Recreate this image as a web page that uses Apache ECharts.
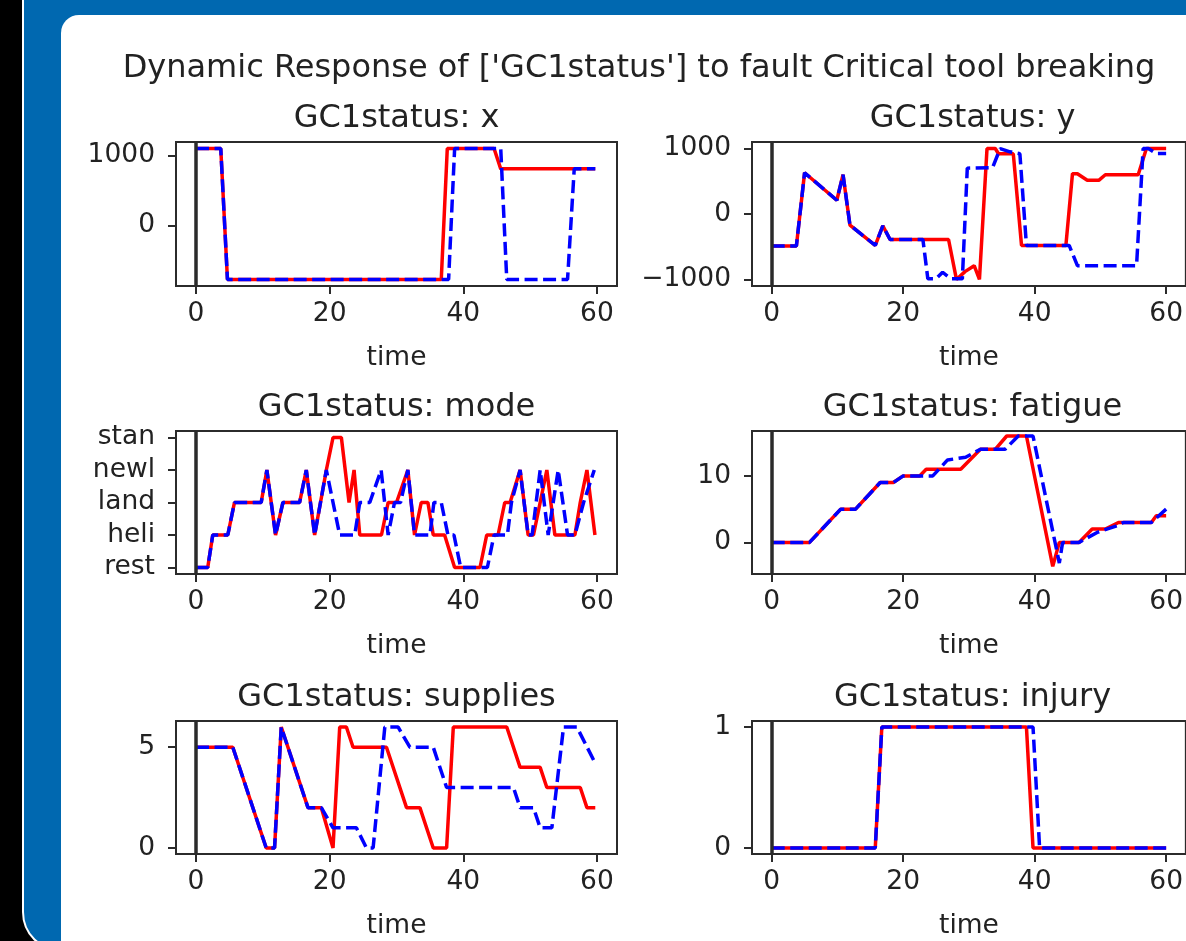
<!DOCTYPE html>
<html><head><meta charset="utf-8">
<script src="https://cdn.jsdelivr.net/npm/echarts@6/dist/echarts.min.js"></script>
<style>
html,body{margin:0;padding:0;width:1186px;height:941px;overflow:hidden;background:#000;}
#frame{position:absolute;left:22px;top:-60px;width:1300px;height:1008px;background:#0068b0;border:2px solid #fff;border-radius:40px;}
#panel{position:absolute;left:61px;top:15px;width:1200px;height:1000px;background:#fff;border-top-left-radius:18px;}
#chart{position:absolute;left:0;top:0;width:1186px;height:941px;}
</style></head><body>
<div id="frame"></div><div id="panel"></div><div id="chart"></div>
<script>
// ---------- data ----------
const suptitle = "Dynamic Response of ['GC1status'] to fault Critical tool breaking";
const panelTitles = ['GC1status: x','GC1status: y','GC1status: mode','GC1status: fatigue','GC1status: supplies','GC1status: injury'];
const timeTicks = [0, 20, 40, 60];
const modeCategories = ['rest','heli','land','newl','stan'];
const xTicks = [0, 1000];
const yTicks = [-1000, 0, 1000];
const fatigueTicks = [0, 10];
const suppliesTicks = [0, 5];
const injuryTicks = [0, 1];
const faultTime = 0;

const xRed  = [[0,1100],[3.7,1100],[4.7,-770],[36.7,-770],[37.6,1100],[44.6,1100],[45.6,810],[59.75,810]];
const xBlue = [[0,1100],[3.7,1100],[4.7,-770],[37.8,-770],[38.7,1100],[45.6,1100],[46.5,-770],[55.6,-770],[56.6,810],[59.75,810]];

const yRed  = [[0,-490],[3.75,-490],[5,630],[9.9,210],[10.85,600],[11.9,-170],[15.75,-480],[16.9,-180],[18,-390],[26.9,-390],[28.1,-1000],[29.4,-880],[30.8,-790],[31.6,-1000],[32.75,1000],[34,1000],[34.5,920],[36.75,920],[38,-480],[44.75,-480],[45.75,615],[46.5,615],[48,515],[49.75,515],[50.75,600],[55.75,600],[57,1000],[60,1000]];
const yBlue = [[0,-490],[3.75,-490],[5,630],[9.9,210],[10.85,600],[11.9,-170],[15.75,-480],[16.9,-180],[18,-390],[23,-390],[23.75,-990],[25,-990],[26,-890],[27.25,-990],[29,-990],[29.75,700],[33.6,710],[34.75,1000],[36.25,950],[37.75,920],[38.75,-480],[45.25,-480],[46.5,-790],[55.5,-790],[56.5,1000],[57.3,1000],[58.5,925],[60,925]];

const modeRed  = [[0,'rest'],[1.75,'rest'],[2.5,'heli'],[4.75,'heli'],[5.75,'land'],[9.75,'land'],[10.6,'newl'],[11.9,'heli'],[13,'land'],[15.5,'land'],[16.5,'newl'],[17.75,'heli'],[19.5,'newl'],[20.5,'stan'],[21.75,'stan'],[22.9,'land'],[23.65,'newl'],[24.5,'heli'],[27.75,'heli'],[28.75,'land'],[30,'land'],[31.7,'newl'],[32.7,'heli'],[33.7,'land'],[34.7,'land'],[35.5,'heli'],[37.2,'heli'],[38.7,'rest'],[42.5,'rest'],[43.5,'heli'],[45.2,'heli'],[46.2,'land'],[47,'land'],[48.5,'newl'],[49.7,'heli'],[50.5,'heli'],[52.5,'newl'],[53.7,'heli'],[56.7,'heli'],[57.5,'land'],[58.5,'newl'],[59.7,'heli']];
const modeBlue = [[0,'rest'],[1.75,'rest'],[2.5,'heli'],[4.75,'heli'],[5.75,'land'],[9.75,'land'],[10.6,'newl'],[11.9,'heli'],[13,'land'],[15.5,'land'],[16.5,'newl'],[17.75,'heli'],[19.5,'newl'],[21.5,'heli'],[23.75,'heli'],[24.5,'land'],[26,'land'],[27.7,'newl'],[28.75,'heli'],[29.7,'land'],[30.6,'land'],[31.7,'newl'],[32.7,'heli'],[35,'heli'],[35.6,'land'],[36.7,'land'],[37.7,'heli'],[38.6,'heli'],[39.6,'rest'],[43.6,'rest'],[44.6,'heli'],[46.6,'heli'],[47.2,'land'],[48.5,'newl'],[49.7,'heli'],[50.3,'heli'],[51.5,'newl'],[52.7,'heli'],[54.2,'newl'],[55.6,'heli'],[56.7,'heli'],[58,'land'],[59.6,'newl']];

const fatigueRed  = [[0,0],[5.75,0],[10.5,5],[12.75,5],[16.5,9],[18.5,9],[20,10],[22.5,10],[23.5,11],[28.75,11],[31.75,14],[34,14],[35.75,16],[38.75,16],[42.75,-3.6],[43.75,0],[46.75,0],[48.75,2],[50.75,2],[52.75,3],[57.75,3],[58.5,4],[60,4]];
const fatigueBlue = [[0,0],[5.75,0],[10.5,5],[12.75,5],[16.5,9],[18.5,9],[20,10],[24.5,10],[26.75,12.4],[29.5,12.8],[31.75,14],[35.5,14],[37.5,16],[39.75,16],[43.75,-3.1],[44.25,0],[46.75,0],[49.5,1.5],[52.5,2.5],[53.5,3],[57.75,3],[60,5]];

const suppliesRed  = [[0,5],[5.5,5],[10.5,0],[11.75,0],[12.75,6],[16.75,2],[18.75,2],[20.5,0],[21.5,6],[22.5,6],[23.5,5],[28.5,5],[31.5,2],[33.5,2],[35.5,0],[37.5,0],[38.5,6],[46.5,6],[48.5,4],[51.5,4],[52.5,3],[57.5,3],[58.5,2],[59.75,2]];
const suppliesBlue = [[0,5],[5.5,5],[10.5,0],[11.75,0],[12.75,6],[16.75,2],[18.75,2],[20.5,1],[24,1],[25.5,0],[26.5,0],[28.25,6],[30.25,6],[32,5],[35.5,5],[37.5,3],[47.5,3],[48.5,2],[50.5,2],[51.5,1],[53.25,1],[55,6],[57,6],[59.75,4.2]];

const injuryRed  = [[0,0],[15.75,0],[16.75,1],[38.75,1],[39.75,0],[60,0]];
const injuryBlue = [[0,0],[15.75,0],[16.75,1],[39.75,1],[40.75,0],[60,0]];

// ---------- layout / style ----------
const FONT = 'DejaVu Sans';
const TXT = '#222';
const AX = '#2b2b2b';
const TITLE_SIZE = 32;
const TICK_SIZE = 26.5;
const colLeft = [176, 752];
const rowTop = [142, 431, 721];
const rowH = [144, 143, 141];
const gW = 441;

const modeIdx = d => d.map(p => [p[0], modeCategories.indexOf(p[1])]);
const minus = v => String(v).replace('-', '\u2212');

const panels = [
  {red: xRed, blue: xBlue, ticks: xTicks, min: -863.5, max: 1193.5},
  {red: yRed, blue: yBlue, ticks: yTicks, min: -1100, max: 1100},
  {red: modeIdx(modeRed), blue: modeIdx(modeBlue), ticks: modeCategories.map((c,i)=>i), min: -0.2, max: 4.2, cat: true},
  {red: fatigueRed, blue: fatigueBlue, ticks: fatigueTicks, min: -4.75, max: 16.75},
  {red: suppliesRed, blue: suppliesBlue, ticks: suppliesTicks, min: -0.3, max: 6.3},
  {red: injuryRed, blue: injuryBlue, ticks: injuryTicks, min: -0.05, max: 1.05}
];

const grid = [], xAxis = [], yAxis = [], series = [];
const title = [{text: suptitle, left: 639, top: 53, textAlign: 'center', padding: 0,
  textStyle: {fontFamily: FONT, fontSize: TITLE_SIZE, fontWeight: 'normal', color: TXT}}];

panels.forEach((p, i) => {
  const r = Math.floor(i / 2), c = i % 2;
  grid.push({left: colLeft[c], top: rowTop[r], width: gW, height: rowH[r], show: true,
    borderColor: AX, borderWidth: 2, backgroundColor: 'transparent', containLabel: false});
  title.push({text: panelTitles[i], left: colLeft[c] + gW / 2, top: rowTop[r] - 39, textAlign: 'center', padding: 0,
    textStyle: {fontFamily: FONT, fontSize: TITLE_SIZE, fontWeight: 'normal', color: TXT}});
  xAxis.push({type: 'value', gridIndex: i, min: -3, max: 63, position: 'bottom',
    name: 'time', nameLocation: 'middle', nameGap: 59,
    nameTextStyle: {fontFamily: FONT, fontSize: TICK_SIZE, color: TXT},
    axisLine: {show: false, onZero: false}, splitLine: {show: false},
    axisTick: {show: true, length: 8, inside: false, customValues: timeTicks, lineStyle: {color: AX, width: 2}},
    axisLabel: {show: true, margin: 15, customValues: timeTicks, fontFamily: FONT, fontSize: TICK_SIZE, color: TXT}});
  yAxis.push({type: 'value', gridIndex: i, min: p.min, max: p.max, position: 'left',
    axisLine: {show: false, onZero: false}, splitLine: {show: false},
    axisTick: {show: true, length: 8, inside: false, customValues: p.ticks, lineStyle: {color: AX, width: 2}},
    axisLabel: {show: true, margin: 21, customValues: p.ticks, fontFamily: FONT, fontSize: TICK_SIZE, color: TXT,
      formatter: p.cat ? (v => modeCategories[Math.round(v)]) : (v => minus(v))}});
  series.push({type: 'line', xAxisIndex: i, yAxisIndex: i, data: [], z: 1, silent: true,
    markLine: {silent: true, symbol: 'none', label: {show: false}, animation: false,
      lineStyle: {color: '#2a2a2a', width: 3.5, type: 'solid'}, data: [{xAxis: faultTime}]}});
  series.push({type: 'line', xAxisIndex: i, yAxisIndex: i, data: p.red, z: 2, showSymbol: false, symbol: 'none',
    lineStyle: {color: '#ff0000', width: 3.5}, silent: true});
  series.push({type: 'line', xAxisIndex: i, yAxisIndex: i, data: p.blue, z: 3, showSymbol: false, symbol: 'none',
    lineStyle: {color: '#0000ff', width: 3.5, type: [13, 5.5]}, silent: true});
});

const chart = echarts.init(document.getElementById('chart'), null, {renderer: 'canvas'});
chart.setOption({animation: false, backgroundColor: 'transparent', title, grid, xAxis, yAxis, series});
</script></body></html>
